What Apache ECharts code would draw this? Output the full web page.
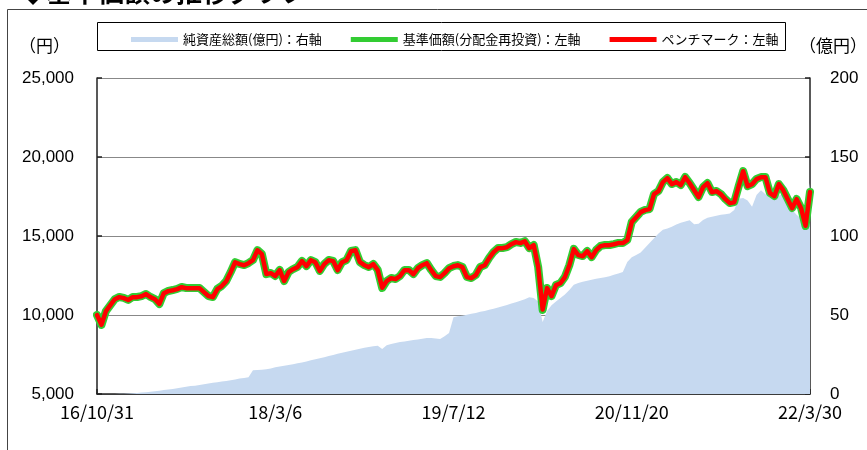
<!DOCTYPE html>
<html>
<head>
<meta charset="utf-8">
<script src="https://cdn.jsdelivr.net/npm/echarts@6/dist/echarts.min.js"></script>
<style>
  html, body { margin: 0; padding: 0; background: #fff; }
  #chart { width: 867px; height: 450px; }
</style>
</head>
<body>
<div id="chart"></div>
<script>
// Date labels shown under the horizontal axis, one every 40 samples
const tickLabels = ['16/10/31', '18/3/6', '19/7/12', '20/11/20', '22/3/30'];
const samplesPerTick = 40;

// 基準価額（分配金再投資）, yen
const navValues = [
  10000, 9370, 10250, 10630, 11010, 11140, 11080, 10950, 11140, 11140,
  11200, 11330, 11140, 11010, 10700, 11390, 11520, 11580, 11650, 11770,
  11710, 11710, 11710, 11710, 11460, 11200, 11140, 11650, 11840, 12150,
  12720, 13350, 13230, 13160, 13290, 13480, 14110, 13860, 12590, 12660,
  12470, 12850, 12150, 12720, 12910, 13040, 13420, 13100, 13480, 13350,
  12790, 13230, 13480, 13420, 12850, 13350, 13480, 14050, 14110, 13350,
  13160, 13040, 13230, 12850, 11710, 12150, 12340, 12280, 12470, 12850,
  12850, 12590, 12970, 13160, 13290, 12850, 12470, 12410, 12660, 12970,
  13100, 13160, 13040, 12410, 12340, 12530, 13040, 13160, 13610, 13990,
  14240, 14240, 14300, 14490, 14620, 14560, 14680, 14240, 14430, 13040,
  10320, 11710, 11200, 11900, 12020, 12410, 13160, 14180, 13800, 13730,
  14050, 13670, 14110, 14370, 14430, 14430, 14490, 14560, 14560, 14750,
  15890, 16200, 16520, 16650, 16710, 17660, 17850, 18420, 18670, 18290,
  18420, 18230, 18730, 18350, 17910, 17470, 18100, 18350, 17780, 17850,
  17660, 17340, 17090, 17150, 18160, 19110, 18160, 18290, 18610, 18730,
  18730, 17720, 17530, 18290, 17910, 17340, 16770, 17340, 16770, 15630,
  17790
];

// ベンチマーク, yen
const benchmarkValues = [
  10000, 9380, 10240, 10620, 11000, 11130, 11070, 10950, 11130, 11130,
  11190, 11320, 11130, 11000, 10700, 11380, 11510, 11570, 11640, 11760,
  11700, 11700, 11700, 11700, 11450, 11200, 11130, 11640, 11830, 12140,
  12710, 13340, 13220, 13150, 13280, 13470, 14100, 13850, 12590, 12650,
  12460, 12840, 12150, 12710, 12900, 13030, 13410, 13090, 13470, 13340,
  12780, 13220, 13470, 13410, 12840, 13340, 13470, 14040, 14100, 13340,
  13150, 13030, 13220, 12840, 11720, 12150, 12330, 12270, 12460, 12840,
  12840, 12580, 12960, 13150, 13280, 12840, 12460, 12400, 12650, 12960,
  13090, 13150, 13030, 12400, 12330, 12520, 13030, 13150, 13600, 13980,
  14230, 14230, 14290, 14480, 14610, 14550, 14670, 14230, 14420, 13040,
  10350, 11700, 11200, 11890, 12010, 12400, 13150, 14170, 13790, 13720,
  14040, 13660, 14100, 14360, 14420, 14420, 14480, 14550, 14550, 14740,
  15880, 16190, 16510, 16640, 16700, 17650, 17840, 18410, 18660, 18280,
  18410, 18220, 18720, 18340, 17900, 17460, 18090, 18340, 17770, 17840,
  17650, 17330, 17080, 17140, 18150, 19100, 18150, 18280, 18600, 18720,
  18720, 17710, 17520, 18280, 17900, 17330, 16760, 17330, 16760, 15650,
  17780
];

// 純資産総額, 億円
const assetValues = [
  0, 0, 0, 0, 0, 0.1, 0.2, 0.3, 0.5, 0.7,
  0.9, 1.1, 1.4, 1.7, 2.1, 2.5, 2.8, 3.2, 3.6, 4.1,
  4.6, 5.0, 5.3, 5.7, 6.1, 6.6, 7.1, 7.5, 7.9, 8.3,
  8.7, 9.2, 9.8, 10.2, 10.6, 15.0, 15.2, 15.4, 15.7, 16.2,
  16.9, 17.4, 17.9, 18.4, 18.9, 19.4, 19.9, 20.6, 21.3, 22.0,
  22.6, 23.2, 24.0, 24.7, 25.5, 26.1, 26.8, 27.4, 28.0, 28.7,
  29.3, 29.8, 30.2, 30.6, 28.5, 30.8, 31.6, 32.3, 32.9, 33.3,
  33.7, 34.1, 34.5, 34.9, 35.4, 35.5, 35.2, 34.8, 36.5, 38.6,
  48.5, 49.2, 49.6, 50.2, 50.8, 51.3, 52.0, 52.6, 53.4, 54.0,
  54.8, 55.6, 56.3, 57.2, 58.0, 59.0, 60.0, 61.2, 60.8, 58.5,
  45.5, 52.5, 56.2, 58.5, 60.8, 63.0, 65.8, 69.2, 70.2, 71.0,
  71.7, 72.3, 72.9, 73.4, 73.9, 74.6, 75.5, 76.3, 77.2, 83.5,
  86.5, 87.9, 89.5, 92.5, 95.5, 98.5, 101.6, 104.0, 104.7, 105.8,
  107.2, 108.4, 109.2, 110.0, 107.5, 107.8, 110.2, 111.5, 112.2, 112.8,
  113.4, 113.8, 114.2, 116.5, 123.5, 124.0, 122.5, 118.5, 126.0, 129.0,
  126.5, 124.0, 123.0, 125.5, 127.0, 121.5, 116.5, 113.5, 111.0, 113.0,
  133.5
];

const seriesNames = ['純資産総額(億円)：右軸', '基準価額(分配金再投資)：左軸', 'ペンチマーク：左軸'];

const toPairs = arr => arr.map((v, i) => [i, v]);
const lastIndex = samplesPerTick * (tickLabels.length - 1);

const numFont = '"Liberation Sans", Arial, sans-serif';
const jpFont = '"Noto Sans CJK JP", sans-serif';

const chart = echarts.init(document.getElementById('chart'), null, { renderer: 'canvas' });

chart.setOption({
  animation: false,
  backgroundColor: '#ffffff',
  grid: { left: 97, right: 57, top: 78, bottom: 56, containLabel: false },
  legend: {
    left: 126,
    top: 28,
    icon: 'rect',
    itemWidth: 47,
    itemHeight: 5,
    itemGap: 29,
    textStyle: { fontFamily: jpFont, fontSize: 13, color: '#000' },
    data: seriesNames
  },
  xAxis: {
    type: 'value',
    min: 0,
    max: lastIndex,
    interval: samplesPerTick,
    axisLine: { show: true, lineStyle: { color: '#222', width: 1.5 } },
    axisTick: { show: true, inside: true, length: 5, lineStyle: { color: '#222', width: 1.5 } },
    splitLine: { show: false },
    axisLabel: {
      fontFamily: jpFont,
      fontSize: 18,
      color: '#000',
      margin: 9,
      formatter: v => tickLabels[Math.round(v / samplesPerTick)] || ''
    }
  },
  yAxis: [
    {
      type: 'value',
      min: 5000,
      max: 25000,
      interval: 5000,
      position: 'left',
      axisLine: { show: true, lineStyle: { color: '#222', width: 1.5 } },
      axisTick: { show: true, inside: true, length: 5, lineStyle: { color: '#222', width: 1.5 } },
      splitLine: { show: true, lineStyle: { color: '#888', width: 1.2 } },
      axisLabel: {
        fontFamily: numFont,
        fontSize: 17,
        color: '#000',
        margin: 23,
        formatter: v => v.toLocaleString('en-US')
      }
    },
    {
      type: 'value',
      min: 0,
      max: 200,
      interval: 50,
      position: 'right',
      axisLine: { show: true, lineStyle: { color: '#222', width: 1.5 } },
      axisTick: { show: true, inside: true, length: 5, lineStyle: { color: '#222', width: 1.5 } },
      splitLine: { show: false },
      axisLabel: {
        fontFamily: numFont,
        fontSize: 17,
        color: '#000',
        margin: 20
      }
    }
  ],
  series: [
    {
      name: seriesNames[0],
      type: 'line',
      yAxisIndex: 1,
      data: toPairs(assetValues),
      symbol: 'none',
      itemStyle: { color: '#C6D9F0' },
      lineStyle: { width: 0, color: '#C6D9F0' },
      areaStyle: { color: '#C6D9F0', opacity: 1 },
      z: 1
    },
    {
      name: seriesNames[1],
      type: 'line',
      yAxisIndex: 0,
      data: toPairs(navValues),
      symbol: 'none',
      itemStyle: { color: '#33CC33' },
      lineStyle: { width: 8, color: '#33CC33', join: 'round', cap: 'round' },
      z: 2
    },
    {
      name: seriesNames[2],
      type: 'line',
      yAxisIndex: 0,
      data: toPairs(benchmarkValues),
      symbol: 'none',
      itemStyle: { color: '#FF0000' },
      lineStyle: { width: 4.5, color: '#FF0000', join: 'round', cap: 'round' },
      z: 3
    }
  ],
  graphic: [
    {
      type: 'text',
      left: 20,
      top: -21,
      style: { text: '◆基準価額の推移グラフ', font: 'bold 26px "Noto Sans CJK JP", sans-serif', fill: '#000' },
      z: 10
    },
    {
      type: 'rect',
      shape: { x: 7.5, y: 9.5, width: 900, height: 500 },
      style: { fill: 'none', stroke: '#444', lineWidth: 1 },
      z: 0,
      silent: true
    },
    {
      type: 'rect',
      shape: { x: 97.5, y: 22.5, width: 688, height: 28 },
      style: { fill: 'none', stroke: '#000', lineWidth: 1 },
      z: 0,
      silent: true
    },
    {
      type: 'text',
      left: 19,
      top: 37,
      style: { text: '（円）', font: '17px "Noto Sans CJK JP", sans-serif', fill: '#000' }
    },
    {
      type: 'text',
      left: 799,
      top: 37,
      style: { text: '（億円）', font: '17px "Noto Sans CJK JP", sans-serif', fill: '#000' }
    }
  ]
});
</script>
</body>
</html>
